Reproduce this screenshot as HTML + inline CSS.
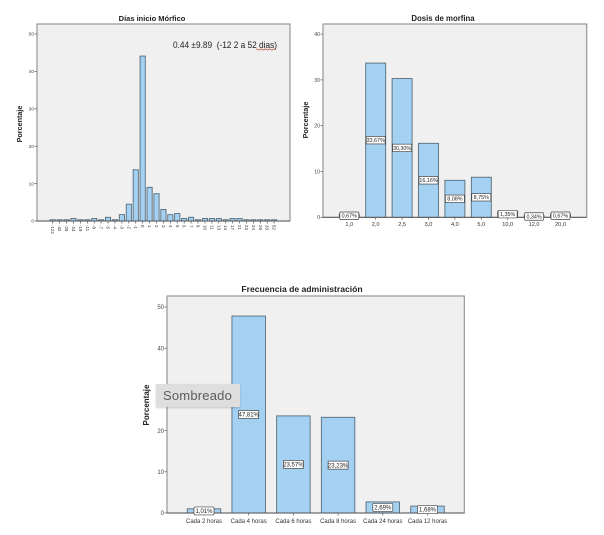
<!DOCTYPE html>
<html lang="es">
<head>
<meta charset="utf-8">
<title>Morfina: gráficos de barras</title>
<style>
html,body{margin:0;padding:0;background:#fff;width:604px;height:535px;overflow:hidden}
svg{position:absolute;left:0;top:0;filter:blur(.3px);font-family:"Liberation Sans",sans-serif}
#tip{position:absolute;left:156px;top:384px;width:84px;height:23px;background:#dedede;box-shadow:0 1px 2px rgba(0,0,0,.18);border-radius:1px;font:13px/23px "Liberation Sans",sans-serif;color:#5c5c5c;text-indent:7px;letter-spacing:.2px}
</style>
</head>
<body>
<svg id="chart" width="604" height="535" viewBox="0 0 604 535" xmlns="http://www.w3.org/2000/svg"></svg>
<div id="tip">Sombreado</div>
<script>
const diasCategories = ["-122","-32","-29","-24","-19","-11","-8","-7","-5","-4","-3","-2","-1","0","1","2","3","4","5","6","7","8","10","11","13","14","17","21","23","24","28","33","52"];
const diasValues = [0.33,0.33,0.33,0.67,0.33,0.33,0.67,0.33,1,0.33,1.7,4.5,13.7,44.1,9,7.3,3.1,1.7,2,0.67,1,0.33,0.67,0.67,0.67,0.33,0.67,0.67,0.33,0.33,0.33,0.33,0.33];
const diasTicks = [0,10,20,30,40,50];

const dosisCategories = ["1,0","2,0","2,5","3,0","4,0","5,0","10,0","12,0","20,0"];
const dosisValues = [0.67,33.67,30.30,16.16,8.08,8.75,1.35,0.34,0.67];
const dosisTicks = [0,10,20,30,40];

const frecCategories = ["Cada 2 horas","Cada 4 horas","Cada 6 horas","Cada 8 horas","Cada 24 horas","Cada 12 horas"];
const frecValues = [1.01,47.81,23.57,23.23,2.69,1.68];
const frecTicks = [0,10,20,30,40,50];

const NS = "http://www.w3.org/2000/svg";
const svg = document.getElementById("chart");

function mk(tag, attrs, text) {
  const el = document.createElementNS(NS, tag);
  for (const k in attrs) el.setAttribute(k, attrs[k]);
  if (text !== undefined) el.textContent = text;
  svg.appendChild(el);
  return el;
}

function fmtPct(v) {
  return v.toFixed(2).replace(".", ",") + "%";
}

function drawChart(c) {
  const y = v => c.baseY - v * c.pxPerUnit;
  const x = i => c.firstX + i * c.stepX;

  const frame = mk("rect", {x: c.left, y: c.top, width: c.right - c.left, height: c.baseY - c.top, fill: "#f0f0f0", stroke: "#8e8e8e", "stroke-width": 1.1});
  
  

  const title = mk("text", {x: c.titleX, y: c.titleY, "text-anchor": "middle", "font-size": c.titleSize, "font-weight": "bold", fill: "#222"}, c.title);
  
  

  const yTitle = mk("text", {transform: "translate(" + c.yTitleX + "," + c.yTitleY + ") rotate(-90)", "text-anchor": "middle", "font-size": c.yTitleSize, "font-weight": "bold", fill: "#222"}, "Porcentaje");
  
  

  c.ticks.forEach(t => {
    const tick = mk("line", {x1: c.left - 2.5, x2: c.left, y1: y(t), y2: y(t), stroke: "#555", "stroke-width": .7});
    
    
    const lab = mk("text", {x: c.left - 3, y: y(t) + c.tickSize * .36, "text-anchor": "end", "font-size": c.tickSize, fill: "#444"}, String(t));
    
    
  });

  c.values.forEach((v, i) => {
    const bar = mk("rect", {x: x(i) - c.barW / 2, y: y(v), width: c.barW, height: c.baseY - y(v), fill: "#a4d0f2", stroke: "#4f6675", "stroke-width": .85});
    
    
    const tm = mk("line", {x1: x(i), x2: x(i), y1: c.baseY, y2: c.baseY + 2.5, stroke: "#555", "stroke-width": .7});
    
    
  });

  const axis = mk("line", {x1: c.left, x2: c.right, y1: c.baseY, y2: c.baseY, stroke: "#555", "stroke-width": .9});
  
  

  c.categories.forEach((cat, i) => {
    let lab;
    if (c.rotateLabels) {
      lab = mk("text", {transform: "translate(" + (x(i) - 1.5) + "," + (c.baseY + 4) + ") rotate(90)", "font-size": c.catSize, fill: "#333"}, cat);
    } else {
      lab = mk("text", {x: x(i), y: c.catY, "text-anchor": "middle", "font-size": c.catSize, fill: "#333"}, cat);
    }
    
    
  });

  if (c.showValues) {
    c.values.forEach((v, i) => {
      const cy = y(v / 2);
      const box = mk("rect", {x: x(i) - c.labW / 2, y: cy - c.labH / 2, width: c.labW, height: c.labH, rx: v < 3 ? 1.2 : 0, fill: "#fff", stroke: "#444", "stroke-width": .7});
      
      
      const lab = mk("text", {x: x(i), y: cy + c.labSize * .36, "text-anchor": "middle", "font-size": c.labSize, fill: "#222"}, fmtPct(v));
      
      
    });
  }
}

drawChart({id: "dias", title: "Días inicio Mórfico", titleX: 152, titleY: 21, titleSize: 7.5,
  left: 37, right: 290, top: 24, baseY: 221, pxPerUnit: 3.74, firstX: 52.7, stepX: 6.92, barW: 5.2,
  values: diasValues, categories: diasCategories, ticks: diasTicks, tickSize: 4.8, catSize: 4.4, rotateLabels: true,
  yTitleX: 22, yTitleY: 124, yTitleSize: 7.2, showValues: false});

drawChart({id: "dosis", title: "Dosis de morfina", titleX: 443, titleY: 21, titleSize: 7.8,
  left: 323, right: 586.7, top: 24, baseY: 217.3, pxPerUnit: 4.58, firstX: 349.3, stepX: 26.4, barW: 20,
  values: dosisValues, categories: dosisCategories, ticks: dosisTicks, tickSize: 5.2, catSize: 5.6, catY: 226, rotateLabels: false,
  yTitleX: 308, yTitleY: 120, yTitleSize: 7.2, showValues: true, labW: 19, labH: 7.5, labSize: 5.4});

drawChart({id: "frecuencia", title: "Frecuencia de administración", titleX: 302, titleY: 292, titleSize: 8.6,
  left: 167, right: 464.3, top: 296, baseY: 513, pxPerUnit: 4.12, firstX: 204, stepX: 44.7, barW: 33.5,
  values: frecValues, categories: frecCategories, ticks: frecTicks, tickSize: 6, catSize: 6, catY: 523, rotateLabels: false,
  yTitleX: 149, yTitleY: 405, yTitleSize: 8, showValues: true, labW: 20, labH: 8, labSize: 6});

const note = mk("text", {x: 173, y: 48, "font-size": 9.4, fill: "#222", textLength: 104, lengthAdjust: "spacingAndGlyphs"}, "0.44 ±9.89  (-12 2 a 52 dias)");


note.style.whiteSpace = "pre";

const squiggle = mk("path", {d: "M256 49.5 q1.05 -1.2 2.1 0 t2.1 0 t2.1 0 t2.1 0 t2.1 0 t2.1 0 t2.1 0 t2.1 0 t2.1 0", fill: "none", stroke: "#c0392b", "stroke-width": .6});


</script>
</body>
</html>
